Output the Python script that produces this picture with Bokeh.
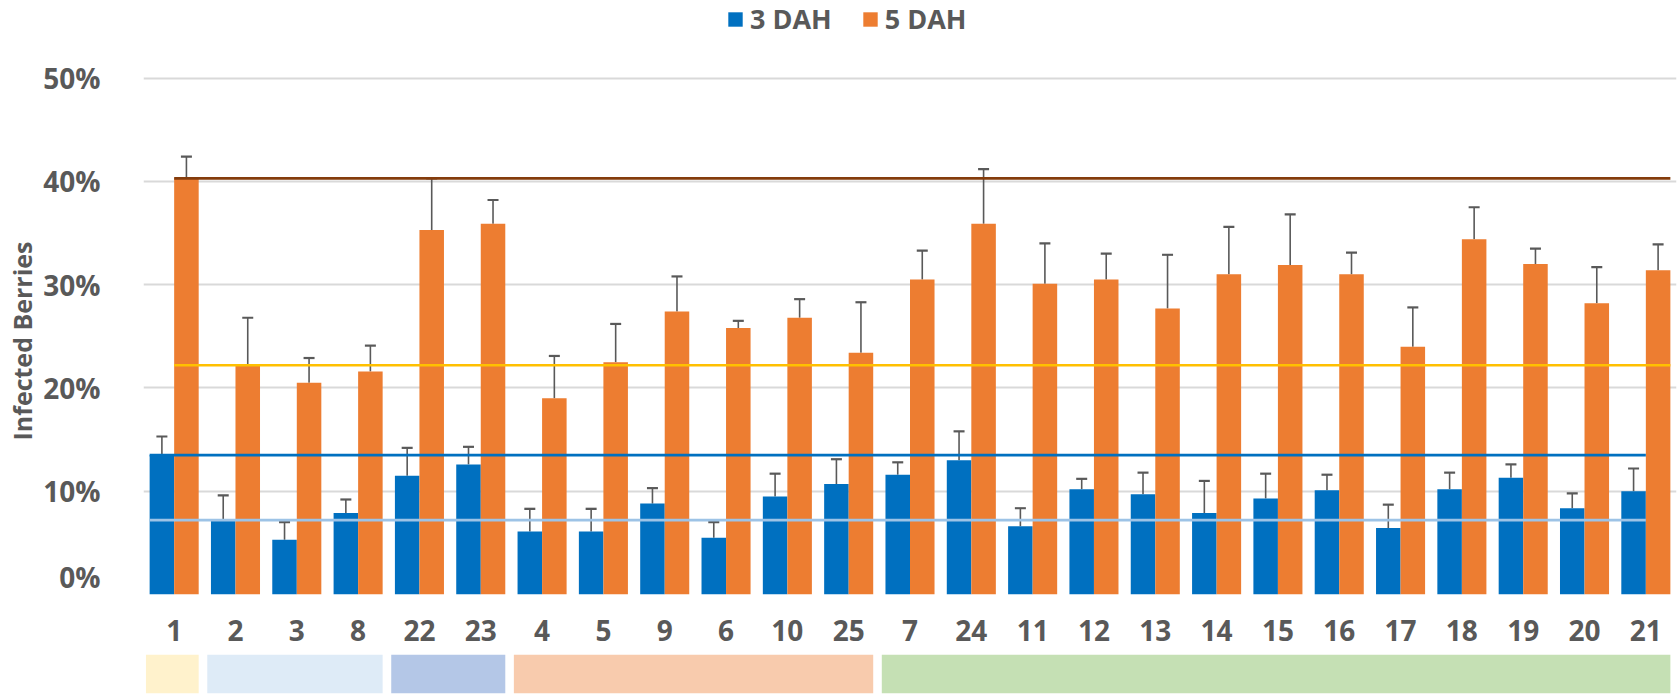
from bokeh.plotting import figure
from bokeh.models import (ColumnDataSource, Range1d, FactorRange, Whisker, TeeHead, Title,
                          Legend, LegendItem, NumeralTickFormatter, FixedTicker)
from bokeh.transform import dodge
from bokeh.layouts import column
from bokeh.embed import file_html
from bokeh.resources import INLINE

# ---------------- data ----------------
categories = ["1", "2", "3", "8", "22", "23", "4", "5", "9", "6", "10", "25", "7",
              "24", "11", "12", "13", "14", "15", "16", "17", "18", "19", "20", "21"]
dah3 = [0.135, 0.072, 0.053, 0.079, 0.115, 0.126, 0.061, 0.061, 0.088, 0.055, 0.095, 0.107, 0.116,
        0.130, 0.066, 0.102, 0.097, 0.079, 0.093, 0.101, 0.0645, 0.102, 0.113, 0.0835, 0.100]
dah3_err = [0.018, 0.024, 0.017, 0.013, 0.027, 0.017, 0.022, 0.022, 0.015, 0.015, 0.022, 0.024, 0.012,
            0.028, 0.0175, 0.010, 0.021, 0.031, 0.024, 0.015, 0.0225, 0.016, 0.013, 0.0145, 0.022]
dah5 = [0.403, 0.222, 0.205, 0.216, 0.353, 0.359, 0.190, 0.225, 0.274, 0.258, 0.268, 0.234, 0.305,
        0.359, 0.301, 0.305, 0.277, 0.310, 0.319, 0.310, 0.240, 0.344, 0.320, 0.282, 0.314]
dah5_err = [0.021, 0.046, 0.024, 0.025, 0.050, 0.023, 0.041, 0.037, 0.034, 0.007, 0.018, 0.049, 0.028,
            0.053, 0.039, 0.025, 0.052, 0.046, 0.049, 0.021, 0.038, 0.031, 0.015, 0.035, 0.025]
series_names = ["3 DAH", "5 DAH"]
y_ticks = [0.0, 0.1, 0.2, 0.3, 0.4, 0.5]
band_first = ["1", "2", "22", "4", "7"]
band_last = ["1", "8", "23", "25", "21"]
band_colors = ["#FFF2CC", "#DEEBF7", "#B4C7E7", "#F8CBAD", "#C5E0B4"]

BLUE = "#0070C0"
ORANGE = "#ED7D31"
GREY = "#595959"
FONT = "Open Sans"

src = ColumnDataSource(dict(
    cat=categories, d3=dah3, d5=dah5,
    d3u=[v + e for v, e in zip(dah3, dah3_err)],
    d5u=[v + e for v, e in zip(dah5, dah5_err)],
))

x_range = FactorRange(*categories, range_padding=0)

# main plot: frame reaches the top of the canvas so that the legend sits inside it
p = figure(x_range=x_range, y_range=Range1d(0, 0.5752),
           width=1678, height=595, frame_width=1533, frame_height=594,
           min_border_left=137, min_border_right=8, min_border_top=0, min_border_bottom=1,
           x_axis_location=None,
           output_backend="svg", toolbar_location=None, tools="")
p.outline_line_color = None

r3 = p.vbar(x=dodge("cat", -0.2, range=p.x_range), top="d3", width=0.4, source=src,
            fill_color=BLUE, line_color=None)
r5 = p.vbar(x=dodge("cat", 0.2, range=p.x_range), top="d5", width=0.4, source=src,
            fill_color=ORANGE, line_color=None)

# reference lines (levels of the first two categories)
ref_blue = ColumnDataSource(dict(x0=[categories[0]] * 2, x1=[categories[-1]] * 2,
                                 y=[dah3[0], dah3[1]], color=[BLUE, "#9DC3E6"]))
ref_orange = ColumnDataSource(dict(x0=[categories[0]] * 2, x1=[categories[-1]] * 2,
                                   y=[dah5[0], dah5[1]], color=["#843C0C", "#FFC000"]))
p.segment(x0=dodge("x0", -0.4, range=p.x_range), x1=dodge("x1", 0.0, range=p.x_range),
          y0="y", y1="y", line_color="color", line_width=2.6, source=ref_blue)
p.segment(x0=dodge("x0", 0.0, range=p.x_range), x1=dodge("x1", 0.4, range=p.x_range),
          y0="y", y1="y", line_color="color", line_width=2.6, source=ref_orange)

for off, lo, hi in [(-0.2, "d3", "d3u"), (0.2, "d5", "d5u")]:
    w = Whisker(base=dodge("cat", off, range=p.x_range), lower=lo, upper=hi, source=src,
                dimension="height", line_color=GREY, line_width=1.6,
                upper_head=TeeHead(size=11, line_color=GREY, line_width=2.2),
                lower_head=None)
    p.add_layout(w)

# y axis
p.yaxis.ticker = FixedTicker(ticks=y_ticks)
p.yaxis.formatter = NumeralTickFormatter(format="0%")
p.yaxis.axis_line_color = None
p.yaxis.major_tick_line_color = None
p.yaxis.minor_tick_line_color = None
p.yaxis.major_label_text_font = FONT
p.yaxis.major_label_text_font_style = "bold"
p.yaxis.major_label_text_font_size = "28px"
p.yaxis.major_label_text_color = GREY
p.yaxis.major_label_standoff = 37

p.add_layout(Title(text="Infected Berries", align="left", offset=154, standoff=4,
                   text_font=FONT, text_font_style="bold", text_font_size="25px",
                   text_color=GREY), "left")

p.xgrid.grid_line_color = None
p.ygrid.grid_line_color = "#D9D9D9"
p.ygrid.grid_line_width = 1.8

legend = Legend(items=[LegendItem(label=series_names[0], renderers=[r3]),
                       LegendItem(label=series_names[1], renderers=[r5])],
                orientation="horizontal", location=(583, 557),
                glyph_width=18, glyph_height=18, label_standoff=6, spacing=29,
                padding=0, margin=0, border_line_color=None, background_fill_alpha=0,
                label_text_font=FONT, label_text_font_style="bold",
                label_text_font_size="27px", label_text_color=GREY)
p.add_layout(legend, "center")

# category labels (axis above) and group bands under them
band_src = ColumnDataSource(dict(first=band_first, last=band_last, color=band_colors))
p2 = figure(x_range=x_range, y_range=Range1d(0, 1),
            width=1678, height=100, frame_width=1533, frame_height=39,
            min_border_left=137, min_border_right=8, min_border_top=59, min_border_bottom=2,
            x_axis_location="above", y_axis_location=None,
            output_backend="svg", toolbar_location=None, tools="")
p2.outline_line_color = None
p2.grid.grid_line_color = None
p2.quad(left=dodge("first", -0.46, range=p2.x_range), right=dodge("last", 0.40, range=p2.x_range),
        bottom=0, top=1, fill_color="color", line_color=None, source=band_src)
p2.xaxis.axis_line_color = None
p2.xaxis.major_tick_line_color = None
p2.xaxis.minor_tick_line_color = None
p2.xaxis.major_label_text_font = FONT
p2.xaxis.major_label_text_font_style = "bold"
p2.xaxis.major_label_text_font_size = "28px"
p2.xaxis.major_label_text_color = GREY
p2.xaxis.major_label_standoff = 8

layout = column(p, p2, spacing=0)
open("out.html", "w").write(file_html(layout, INLINE))
